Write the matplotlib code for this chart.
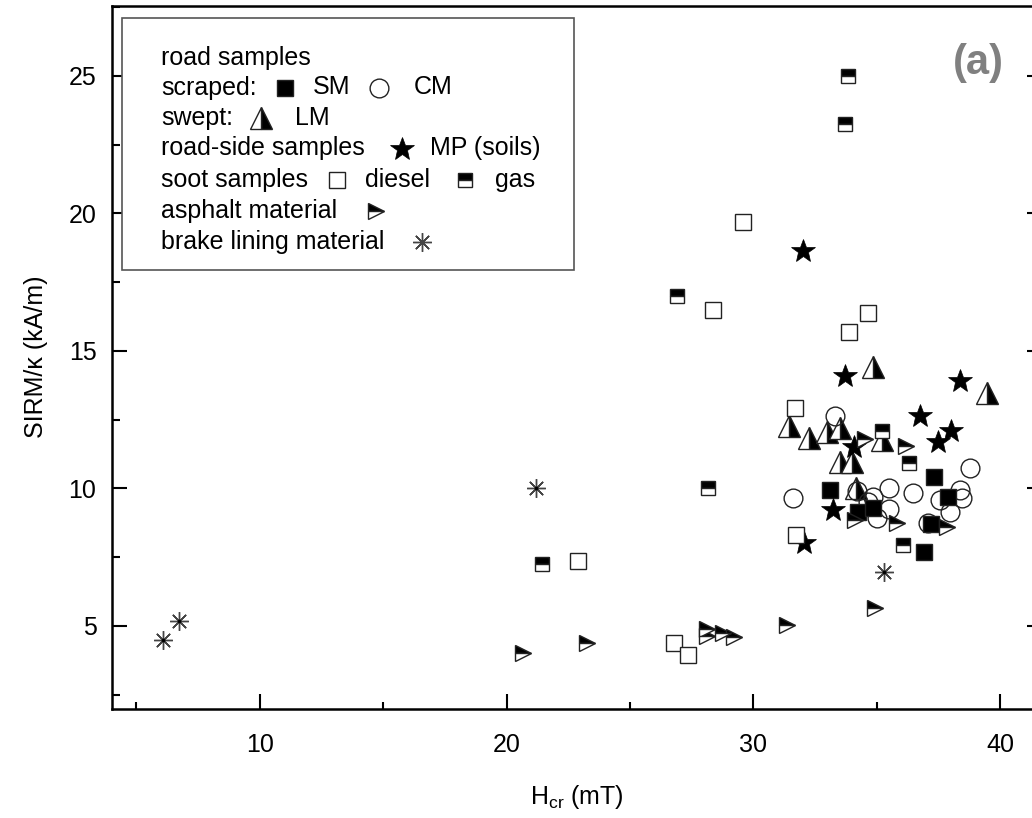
import matplotlib
matplotlib.use("Agg")
import matplotlib.pyplot as plt
from matplotlib.patches import Rectangle
from matplotlib.lines import Line2D
from matplotlib.ticker import MultipleLocator

plt.rcParams['font.family'] = ['Liberation Sans', 'DejaVu Sans']
plt.rcParams['mathtext.fontset'] = 'custom'
plt.rcParams['mathtext.rm'] = 'Liberation Sans'

# road samples, scraped
sm_x = [33.1, 34.26, 34.87, 37.33, 37.91, 37.2, 36.93]
sm_y = [9.95, 9.16, 9.28, 10.43, 9.7, 8.7, 7.7]
cm_x = [31.6, 33.32, 34.2, 34.65, 34.87, 35.0, 35.48, 35.48, 36.49, 37.1, 37.55, 37.98, 38.39, 38.45, 38.79]
cm_y = [9.66, 12.65, 9.9, 9.52, 9.7, 8.92, 10.0, 9.25, 9.82, 8.75, 9.58, 9.16, 9.95, 9.64, 10.73]
# road samples, swept
lm_x = [31.45, 32.24, 32.98, 33.52, 33.5, 34.0, 34.17, 35.2, 34.87, 39.48]
lm_y = [12.28, 11.83, 12.07, 12.19, 10.95, 10.97, 10.0, 11.75, 14.43, 13.46]
# road-side soils
mp_x = [32.03, 33.72, 38.39, 36.74, 38.0, 37.5, 34.1, 33.25, 32.06]
mp_y = [18.65, 14.09, 13.9, 12.65, 12.1, 11.7, 11.52, 9.22, 8.03]
# soot
diesel_x = [22.91, 26.79, 27.37, 28.38, 29.58, 31.7, 33.86, 34.63, 31.74]
diesel_y = [7.35, 4.37, 3.95, 16.49, 19.7, 12.92, 15.7, 16.39, 8.31]
gas_x = [21.45, 26.9, 28.16, 33.82, 33.72, 35.21, 36.29, 36.07]
gas_y = [7.25, 16.98, 10.0, 25.0, 23.25, 12.1, 10.92, 7.93]
# asphalt
asph_x = [20.68, 23.25, 28.12, 28.12, 28.79, 29.2, 31.36, 34.94, 34.54, 36.19, 34.13, 35.82, 37.84]
asph_y = [4.01, 4.39, 4.9, 4.62, 4.75, 4.6, 5.04, 5.64, 11.79, 11.55, 8.85, 8.76, 8.61]
# brake lining
brake_x = [6.06, 6.73, 21.2, 35.28]
brake_y = [4.49, 5.19, 10.02, 6.97]

W, H = 1032, 818
fig = plt.figure(figsize=(W / 100, H / 100), dpi=100)
ax = fig.add_axes([111.7 / W, 1 - 709 / H, (1042 - 111.7) / W, (709 - 5.5) / H])

edge = '#222222'
sty = dict(linestyle='none', markeredgecolor=edge, markeredgewidth=1.0)
m_lm = dict(marker='^', ms=16, fillstyle='right', markerfacecolor='black', markerfacecoloralt='white', **sty)
m_cm = dict(marker='o', ms=13.5, markerfacecolor='none', **sty)
m_sm = dict(marker='s', ms=12, markerfacecolor='black', **sty)
m_mp = dict(marker='*', ms=18, markerfacecolor='black', linestyle='none', markeredgecolor='black', markeredgewidth=0.5)
m_diesel = dict(marker='s', ms=12, markerfacecolor='white', **sty)
m_gas = dict(marker='s', ms=10.5, fillstyle='top', markerfacecolor='black', markerfacecoloralt='white', **sty)
m_asph = dict(marker='>', ms=11.5, fillstyle='top', markerfacecolor='black', markerfacecoloralt='white', **sty)
m_brake = dict(marker=(8, 2, 0), ms=13.5, linestyle='none', markeredgecolor='#444444', markeredgewidth=1.0)

ax.plot(lm_x, lm_y, **m_lm)
ax.plot(cm_x, cm_y, **m_cm)
ax.plot(sm_x, sm_y, **m_sm)
ax.plot(mp_x, mp_y, **m_mp)
ax.plot(diesel_x, diesel_y, **m_diesel)
ax.plot(gas_x, gas_y, **m_gas)
ax.plot(asph_x, asph_y, **m_asph)
ax.plot(brake_x, brake_y, **m_brake)
ax.plot(brake_x, brake_y, linestyle='none', marker='.', ms=3, color='black')

ax.set_xlim(4.0, 41.7)
ax.set_ylim(1.98, 27.56)
ax.xaxis.set_major_locator(MultipleLocator(10))
ax.xaxis.set_minor_locator(MultipleLocator(5))
ax.yaxis.set_major_locator(MultipleLocator(5))
ax.yaxis.set_minor_locator(MultipleLocator(2.5))
ax.tick_params(which='both', direction='in', top=False, right=True, width=1.5, labelsize=18)
ax.tick_params(which='major', length=10.8)
ax.tick_params(axis='x', which='major', pad=17)
ax.tick_params(axis='y', which='major', pad=11)
ax.tick_params(which='minor', length=5.4)
for s in ax.spines.values():
    s.set_linewidth(1.8)

ax.set_xlabel('H$_{\\rm cr}$ (mT)', fontsize=18, labelpad=19)
ax.set_ylabel('SIRM/\u03ba (kA/m)', fontsize=18, labelpad=15)

ax.text(978 / W, 1 - 63 / H, '(a)', transform=fig.transFigure, fontsize=30, fontweight='bold',
        color='#808080', ha='center', va='center')

# hand-made legend box
def fx(px):
    return px / W

def fy(py):
    return 1 - py / H

fig.add_artist(Rectangle((fx(122), fy(270)), fx(574) - fx(122), fy(18) - fy(270),
                         transform=fig.transFigure, facecolor='white', edgecolor='#555555', lw=1.2, zorder=5))

rows = [
    (58, [(161, 'road samples')], []),
    (87.5, [(161, 'scraped:'), (313, 'SM'), (414, 'CM')], [(285, m_sm), (379, m_cm)]),
    (118, [(161, 'swept:'), (295, 'LM')], [(261, m_lm)]),
    (148.5, [(161, 'road-side samples'), (430, 'MP (soils)')], [(402, m_mp)]),
    (180, [(161, 'soot samples'), (365, 'diesel'), (495, 'gas')], [(337, m_diesel), (465, m_gas)]),
    (211, [(161, 'asphalt material')], [(376, m_asph)]),
    (241.5, [(161, 'brake lining material')], [(422, m_brake)]),
]
for py, texts, marks in rows:
    for px, t in texts:
        fig.text(fx(px), fy(py), t, fontsize=18, ha='left', va='center', zorder=6)
    for px, m in marks:
        mk = dict(m)
        mk.pop('linestyle', None)
        fig.add_artist(Line2D([fx(px)], [fy(py)], transform=fig.transFigure, linestyle='none', zorder=6, **mk))

fig.savefig('out.png', dpi=100)
